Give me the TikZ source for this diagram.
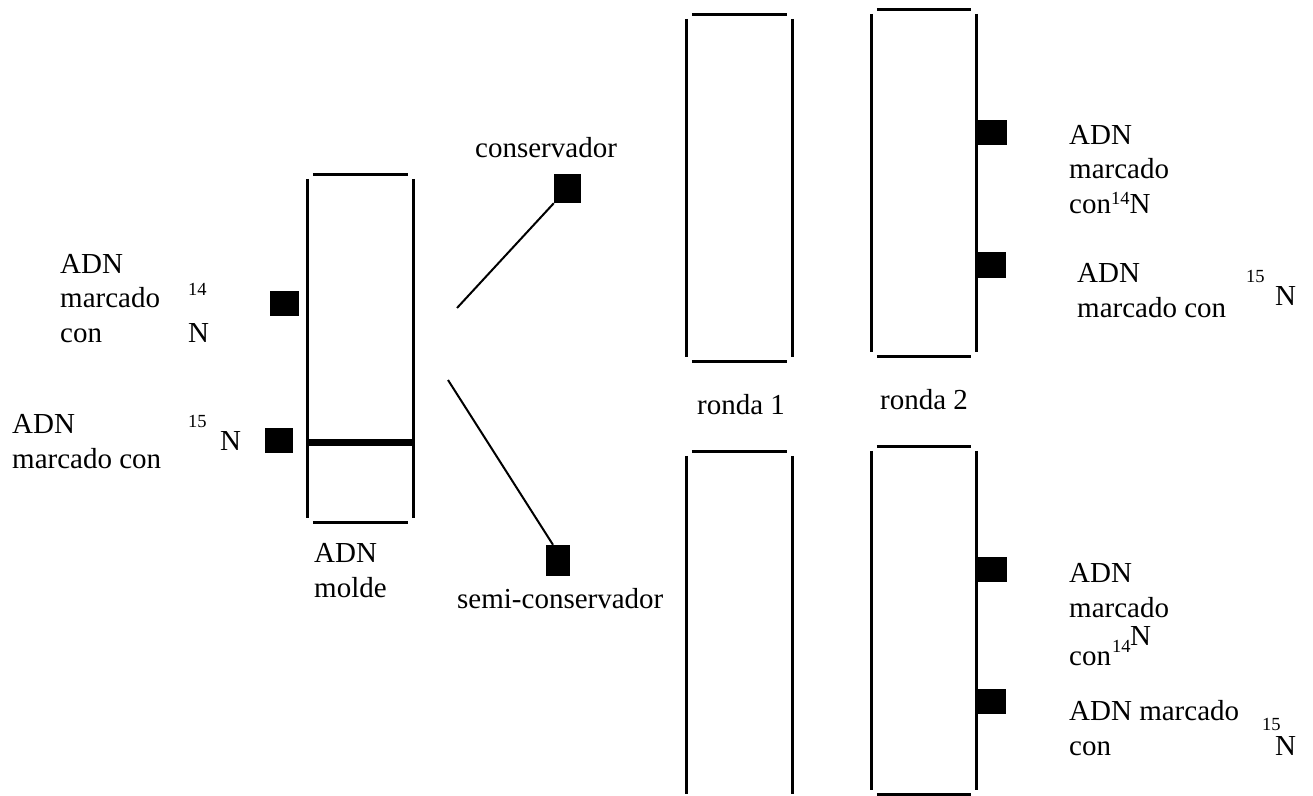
\documentclass[tikz,border=0pt]{standalone}
\usepackage{fontspec}
\setmainfont{Liberation Serif}

\begin{document}
\begin{tikzpicture}[
    x=1pt, y=-1pt,
    every node/.style={inner sep=0, font=\fontsize{29}{34.5}\selectfont},
    txt/.style={align=left, anchor=base west},
    iso/.style={anchor=base west, font=\fontsize{18.5}{18.5}\selectfont},
    lane/.style={minimum width=105pt, minimum height=347pt},
    spot/.style={fill=black, minimum width=28pt, minimum height=25pt},
    gel/.style={line width=3pt},
    link/.style={line width=2pt}
]
\useasboundingbox (0,0) rectangle (1313,795);

% gel lanes
\node[lane] (molde) at (360.5,348.5) {};
\node[lane, minimum height=346pt] (r1a) at (739.5,188) {};
\node[lane, minimum height=346pt] (r1b) at (739.5,625) {};
\node[lane, minimum width=104pt, minimum height=346pt] (r2a) at (924,183) {};
\node[lane, minimum width=104pt] (r2b) at (924,620.5) {};

\foreach \g in {molde,r1a,r1b,r2a,r2b} {
    \draw[gel] ([xshift=5pt]\g.north west) -- ([xshift=-5pt]\g.north east);
    \draw[gel] ([yshift=-4pt]\g.north west) -- ([yshift=4pt]\g.south west);
    \draw[gel] ([yshift=-4pt]\g.north east) -- ([yshift=4pt]\g.south east);
}
\foreach \g in {molde,r1a,r2a,r2b}
    \draw[gel] ([xshift=5pt]\g.south west) -- ([xshift=-5pt]\g.south east);

% heavy band in the template lane
\draw[line width=7pt] (molde.west |- 0,442) -- (molde.east |- 0,442);

% marker spots
\node[spot, minimum width=29pt] (m14) at (284.5,303.5) {};
\node[spot] (m15) at (279,440.5) {};
\node[spot, minimum width=27pt, minimum height=29pt] (cons) at (567.5,188.5) {};
\node[spot, minimum width=24pt, minimum height=31pt] (semi) at (558,560.5) {};
\node[spot, minimum width=31pt] (a14) at (991.5,132.5) {};
\node[spot, minimum height=26pt] (a15) at (992,265) {};
\node[spot, minimum width=31pt] (b14) at (991.5,569.5) {};
\node[spot] (b15) at (992,701.5) {};

% the two models
\coordinate (fork1) at (457,308);
\coordinate (fork2) at (448,380);
\draw[link] (fork1) -- (cons.south west);
\draw[link] (fork2) -- ([xshift=-5pt]semi.north);

% labels (multi-line ones sit on their last line)
\node[txt] (l14) at (60,342) {ADN\\marcado\\con};
\node[iso] (l14s) at (188,295) {14};
\node[txt] (l14n) at (188,342) {N};
\node[txt] (l15) at (12,468) {ADN\\marcado con};
\node[iso] (l15s) at (188,427) {15};
\node[txt] (l15n) at (220,450) {N};
\node[txt] (lmolde) at (314,597) {ADN\\molde};
\node[txt] (lcons) at (475,157) {conservador};
\node[txt] (lsemi) at (457,608) {semi-conservador};
\node[txt] (lr1) at (697,414) {ronda 1};
\node[txt] (lr2) at (880,409) {ronda 2};

\node[txt] (la14) at (1069,213) {ADN\\marcado\\con\raisebox{9pt}{\fontsize{18.5}{18.5}\selectfont 14}N};
\node[txt] (la15) at (1077,317) {ADN\\marcado con};
\node[iso] (la15s) at (1246,282) {15};
\node[txt] (la15n) at (1275,305) {N};

\node[txt] (lb14) at (1069,617) {ADN\\marcado};
\node[txt] (lb14c) at (1069,665) {con};
\node[iso] (lb14s) at (1112,652) {14};
\node[txt] (lb14n) at (1130,645) {N};
\node[txt] (lb15) at (1069,755) {ADN marcado\\con};
\node[iso] (lb15s) at (1262,730) {15};
\node[txt] (lb15n) at (1275,755) {N};

\end{tikzpicture}
\end{document}
